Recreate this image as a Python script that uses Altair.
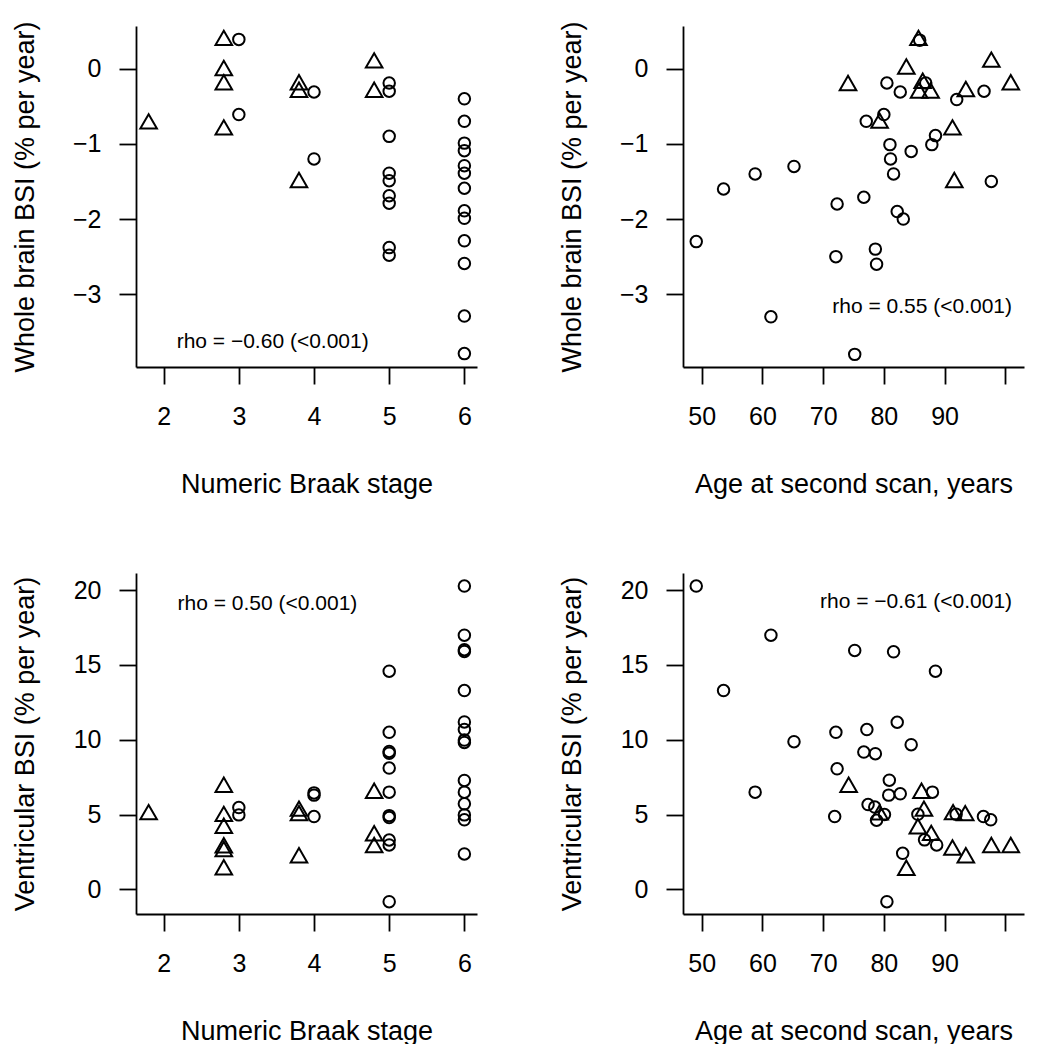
import altair as alt
import pandas as pd

FONT = "Liberation Sans"

# ---------------- Panel A: whole brain BSI vs Braak stage ----------------
a_tri_stage = [2, 3, 3, 3, 3, 4, 4, 4, 5, 5]
a_tri_wb = [-0.70, 0.41, 0.01, -0.18, -0.78, -0.18, -0.28, -1.48, 0.11, -0.28]
a_circ_stage = [3, 3, 4, 4,
                5, 5, 5, 5, 5, 5, 5, 5, 5,
                6, 6, 6, 6, 6, 6, 6, 6, 6, 6, 6, 6, 6]
a_circ_wb = [0.39, -0.61, -0.31, -1.20,
             -0.19, -0.30, -0.90, -1.39, -1.49, -1.69, -1.79, -2.38, -2.48,
             -0.40, -0.70, -0.99, -1.09, -1.29, -1.39, -1.59, -1.89, -1.99, -2.29, -2.59, -3.29, -3.79]

# ---------------- Panel B: whole brain BSI vs age ----------------
b_tri_age = [74.1, 83.7, 85.7, 97.7, 100.9, 93.5, 86.4, 85.8, 87.7, 79.3, 91.3, 91.6]
b_tri_wb = [-0.19, 0.03, 0.41, 0.12, -0.18, -0.27, -0.16, -0.29, -0.29, -0.69, -0.78, -1.48]
b_circ_age = [49.1, 53.6, 58.8, 65.2, 61.4, 72.3, 72.1, 76.7, 75.2, 78.6, 78.8, 77.1, 80.0, 80.5,
              82.7, 81.0, 81.1, 81.6, 82.2, 83.2, 84.5, 87.9, 88.5, 92.0, 96.5, 97.7, 86.9, 85.9]
b_circ_wb = [-2.30, -1.60, -1.40, -1.30, -3.30, -1.80, -2.50, -1.71, -3.80, -2.40, -2.60, -0.70, -0.61, -0.19,
             -0.31, -1.01, -1.20, -1.40, -1.90, -2.00, -1.10, -1.01, -0.89, -0.41, -0.30, -1.50, -0.19, 0.38]

# ---------------- Panel C: ventricular BSI vs Braak stage ----------------
c_tri_stage = [2, 3, 3, 3, 3, 3, 3, 4, 4, 4, 5, 5, 5]
c_tri_vent = [5.16, 6.99, 5.05, 4.25, 2.95, 2.70, 1.48, 5.40, 5.10, 2.28, 6.59, 3.75, 2.97]
c_circ_stage = [3, 3, 4, 4, 4,
                5, 5, 5, 5, 5, 5, 5, 5, 5, 5, 5,
                6, 6, 6, 6, 6, 6, 6, 6, 6, 6, 6, 6, 6, 6, 6]
c_circ_vent = [5.47, 4.98, 6.45, 6.30, 4.87,
               14.58, 10.50, 9.22, 9.10, 8.11, 6.50, 4.93, 4.80, 3.30, 2.97, -0.82,
               20.27, 16.99, 16.02, 15.90, 13.29, 11.19, 10.68, 9.98, 9.82, 7.28, 6.50, 5.72, 4.98, 4.65, 2.37]

# ---------------- Panel D: ventricular BSI vs age ----------------
d_tri_age = [74.2, 86.2, 86.6, 85.6, 87.8, 91.3, 93.5, 97.7, 100.9, 83.7, 91.4, 93.4, 79.3]
d_tri_vent = [6.99, 6.59, 5.40, 4.22, 3.78, 2.80, 2.28, 2.97, 2.97, 1.45, 5.16, 5.10, 5.15]
d_circ_age = [49.1, 53.6, 61.4, 58.8, 65.2, 75.2, 81.6, 88.5, 72.1, 77.2, 82.2, 84.5, 76.7, 78.6,
              72.3, 80.9, 80.8, 82.7, 88.0, 71.9, 77.4, 78.5, 78.8, 80.1, 85.6, 86.7, 88.7, 83.1,
              80.5, 91.9, 96.4, 97.6]
d_circ_vent = [20.27, 13.29, 16.99, 6.50, 9.87, 15.97, 15.88, 14.58, 10.50, 10.68, 11.17, 9.67, 9.18, 9.07,
               8.06, 7.30, 6.30, 6.39, 6.50, 4.87, 5.67, 5.50, 4.62, 5.00, 5.02, 3.31, 2.97, 2.41,
               -0.82, 5.02, 4.87, 4.65]

notes = ["rho = \u22120.60 (<0.001)", "rho = 0.55 (<0.001)",
         "rho = 0.50 (<0.001)", "rho = \u22120.61 (<0.001)"]
note_x = [3.45, 86.3, 3.38, 85.3]
note_y = [-3.63, -3.17, 19.1, 19.2]

stage_ticks = [2, 3, 4, 5, 6]
age_ticks = [50, 60, 70, 80, 90, 100]
wb_ticks = [0, -1, -2, -3]
vent_ticks = [0, 5, 10, 15, 20]

W = 341
H = 341
TRI_SHIFT = 0.2  # triangles drawn slightly left of the stage


def frame(tx, ty, cx, cy, shift=0.0):
    tri = pd.DataFrame({"x": [v - shift for v in tx], "y": ty, "g": "tri"})
    cir = pd.DataFrame({"x": cx, "y": cy, "g": "circ"})
    return pd.concat([cir, tri], ignore_index=True)


def panel(df, xdom, ydom, xticks, yticks, xtitle, ytitle, note, nx, ny, hide100=False):
    xaxis = dict(values=xticks, title=xtitle, grid=False, labelPadding=20,
                 titleX=W / 2, titleY=125, titleBaseline="alphabetic", titleAlign="center",
                 labelOverlap=False, format="d")
    if hide100:
        xaxis["labelExpr"] = "datum.value == 100 ? '' : datum.label"
    yaxis = dict(values=yticks, title=ytitle, grid=False, labelPadding=18,
                 titleAngle=270, titleX=-103, titleY=H / 2, titleBaseline="alphabetic",
                 titleAlign="center", labelOverlap=False, format="d")
    xs = alt.Scale(domain=xdom, nice=False, zero=False)
    ys = alt.Scale(domain=ydom, nice=False, zero=False)
    pts = alt.Chart(df).mark_point(filled=False, color="black", strokeWidth=2, opacity=1).encode(
        x=alt.X("x:Q", scale=xs, axis=alt.Axis(**xaxis)),
        y=alt.Y("y:Q", scale=ys, axis=alt.Axis(**yaxis)),
        shape=alt.Shape("g:N", scale=alt.Scale(domain=["circ", "tri"], range=["circle", "triangle-up"]), legend=None),
        size=alt.Size("g:N", scale=alt.Scale(domain=["circ", "tri"], range=[132, 275]), legend=None),
    )
    txt = alt.Chart(pd.DataFrame({"x": [nx], "y": [ny], "t": [note]})).mark_text(
        font=FONT, fontSize=21, color="black", align="center", baseline="middle"
    ).encode(
        x=alt.X("x:Q", scale=xs),
        y=alt.Y("y:Q", scale=ys),
        text="t:N",
    )
    return alt.layer(pts, txt).properties(width=W, height=H)


wb_dom = [-3.968, 0.568]
vent_dom = [-1.644, 21.144]
stage_dom = [1.632, 6.168]
age_dom = [46.92, 103.08]

pA = panel(frame(a_tri_stage, a_tri_wb, a_circ_stage, a_circ_wb, TRI_SHIFT), stage_dom, wb_dom,
           stage_ticks, wb_ticks, "Numeric Braak stage", "Whole brain BSI (% per year)",
           notes[0], note_x[0], note_y[0])
pB = panel(frame(b_tri_age, b_tri_wb, b_circ_age, b_circ_wb), age_dom, wb_dom,
           age_ticks, wb_ticks, "Age at second scan, years", "Whole brain BSI (% per year)",
           notes[1], note_x[1], note_y[1], hide100=True)
pC = panel(frame(c_tri_stage, c_tri_vent, c_circ_stage, c_circ_vent, TRI_SHIFT), stage_dom, vent_dom,
           stage_ticks, vent_ticks, "Numeric Braak stage", "Ventricular BSI (% per year)",
           notes[2], note_x[2], note_y[2])
pD = panel(frame(d_tri_age, d_tri_vent, d_circ_age, d_circ_vent), age_dom, vent_dom,
           age_ticks, vent_ticks, "Age at second scan, years", "Ventricular BSI (% per year)",
           notes[3], note_x[3], note_y[3], hide100=True)

chart = alt.concat(pA, pB, pC, pD, columns=2, spacing=206, bounds="flush").properties(
    padding={"left": 3, "top": 12, "right": 5, "bottom": 0}, background="white"
).configure_view(stroke=None).configure_axis(
    domainColor="black", domainWidth=1.8, tickColor="black", tickWidth=1.8, tickSize=17,
    labelFont=FONT, labelFontSize=25, labelColor="black",
    titleFont=FONT, titleFontSize=27, titleFontWeight="normal", titleColor="black",
)

chart.save("out.html", embed_options={"renderer": "svg", "actions": False})
